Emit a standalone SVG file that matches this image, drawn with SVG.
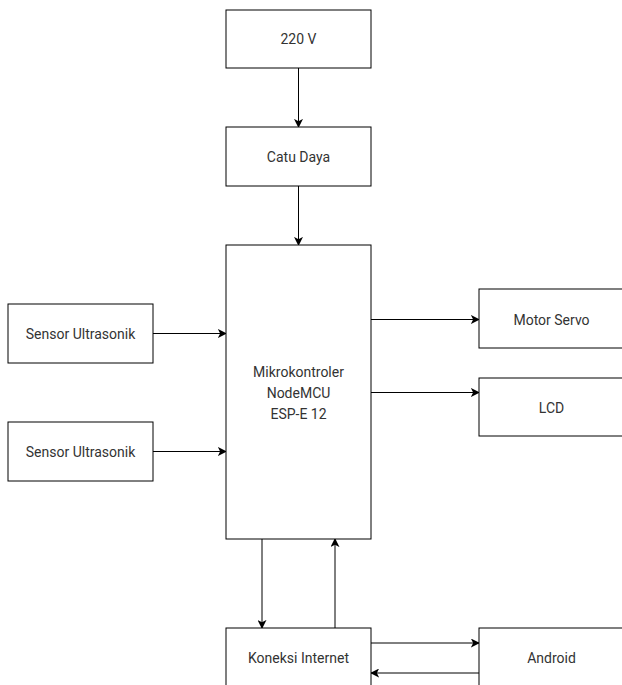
<svg xmlns="http://www.w3.org/2000/svg" width="622" height="685" viewBox="0 0 622 685">
<style>
.box{fill:#fff;stroke:#000;stroke-width:1}
.lbl{font-family:Roboto,"Liberation Sans",Arial,sans-serif;font-size:14px;fill:#333;text-anchor:middle;dominant-baseline:central}
.edge{fill:none;stroke:#000;stroke-width:1;marker-end:url(#arr)}
</style>
<defs>
<marker id="arr" viewBox="0 0 10 10" refX="9" refY="5" markerWidth="9" markerHeight="9" markerUnits="userSpaceOnUse" orient="auto">
<path d="M0,0 L10,5 L0,10 L2.5,5 Z" fill="#000"/>
</marker>
</defs>
<rect width="622" height="685" fill="#fff"/>
<g id="connectors">
<path class="edge" d="M298.5,68 V127"/>
<path class="edge" d="M298.5,186 V245"/>
<path class="edge" d="M153,333.5 H226"/>
<path class="edge" d="M153,451.5 H226"/>
<path class="edge" d="M371,319.5 H479"/>
<path class="edge" d="M371,392.5 H479"/>
<path class="edge" d="M262,539 V628"/>
<path class="edge" d="M335,628 V539"/>
<path class="edge" d="M371,643 H479"/>
<path class="edge" d="M479,673 H371"/>
</g>
<g id="n220v"><rect class="box" x="226" y="10" width="145" height="58"/><text class="lbl" x="298.5" y="39">220 V</text></g>
<g id="catudaya"><rect class="box" x="226" y="127" width="145" height="59"/><text class="lbl" x="298.5" y="156.5">Catu Daya</text></g>
<g id="mcu"><rect class="box" x="226" y="245" width="145" height="294"/><text class="lbl" x="298.5" y="371.5">Mikrokontroler</text><text class="lbl" x="298.5" y="392.5">NodeMCU</text><text class="lbl" x="298.5" y="413.5">ESP-E 12</text></g>
<g id="sensor1"><rect class="box" x="8" y="304" width="145" height="59"/><text class="lbl" x="80.5" y="333.5">Sensor Ultrasonik</text></g>
<g id="sensor2"><rect class="box" x="8" y="422" width="145" height="59"/><text class="lbl" x="80.5" y="451.5">Sensor Ultrasonik</text></g>
<g id="servo"><rect class="box" x="479" y="289" width="145" height="59"/><text class="lbl" x="551.5" y="319.5">Motor Servo</text></g>
<g id="lcd"><rect class="box" x="479" y="378" width="145" height="58"/><text class="lbl" x="551.5" y="407.5">LCD</text></g>
<g id="internet"><rect class="box" x="226" y="628" width="145" height="60"/><text class="lbl" x="298.5" y="658">Koneksi Internet</text></g>
<g id="android"><rect class="box" x="479" y="628" width="145" height="60"/><text class="lbl" x="551.5" y="658">Android</text></g>
</svg>
